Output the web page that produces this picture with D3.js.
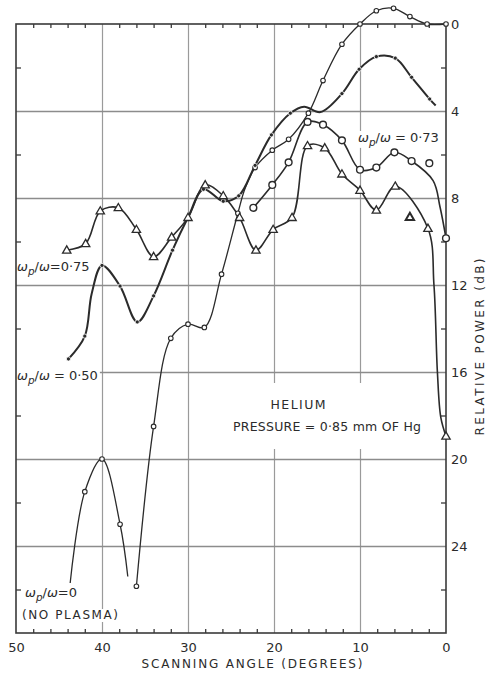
<!DOCTYPE html>
<html><head><meta charset="utf-8">
<script src="https://cdn.jsdelivr.net/npm/d3@7"></script>
<style>
html,body{margin:0;padding:0;background:#fff;}
svg{display:block;font-family:"DejaVu Sans",sans-serif;}
</style></head><body>
<svg id="chart" width="489" height="673"></svg>
<script>
// Relative received power (dB below peak) against scanning angle (degrees),
// helium plasma at 0.85 mm Hg, for several values of wp/w.

// wp/w = 0 (no plasma): side lobe and main lobe
const angleNoPlasmaSide = [43.7, 42.0, 40.0, 37.9, 37.0];
const dbNoPlasmaSide    = [25.7, 21.5, 20.0, 23.0, 25.4];
const plainNoPlasmaSide = [0, 4];

const angleNoPlasmaMain = [36.0, 34.0, 32.0, 30.0, 28.1, 26.1, 24.2, 23.4, 22.2, 20.2, 18.3, 16.0, 14.3, 12.1, 10.0, 8.1, 6.1, 4.2, 2.2, 0];
const dbNoPlasmaMain    = [25.85, 18.5, 14.45, 13.8, 13.95, 11.5, 8.7, 7.6, 6.6, 5.8, 5.3, 4.1, 2.6, 0.93, 0, -0.61, -0.72, -0.34, 0, 0];
const plainNoPlasmaMain = [7];

// wp/w = 0.50
const angle050 = [43.9, 42.0, 41.2, 40.0, 37.9, 35.9, 34.0, 31.8, 30.0, 28.2, 25.9, 24.1, 22.2, 20.3, 18.1, 16.5, 14.6, 12.1, 10.1, 8.1, 5.9, 4.0, 1.9, 1.2];
const db050    = [15.4, 14.35, 12.4, 11.1, 12.05, 13.7, 12.5, 10.4, 8.9, 7.6, 8.15, 7.9, 6.5, 5.1, 4.1, 3.8, 4.05, 3.2, 2.08, 1.5, 1.57, 2.45, 3.45, 3.75];
const plain050 = [2, 8, 15, 16, 23];

// wp/w = 0.73
const angle073 = [22.4, 20.2, 18.3, 16.1, 14.3, 12.1, 10.0, 8.1, 6.0, 4.0, 1.5, 0.7, 0];
const db073    = [8.45, 7.4, 6.36, 4.5, 4.63, 5.35, 6.7, 6.6, 5.9, 6.3, 7.2, 8.4, 9.85];
const plain073 = [10, 11];

// wp/w = 0.75
const angle075 = [44.1, 41.9, 40.2, 38.1, 36.0, 34.0, 31.9, 30.0, 28.0, 25.9, 24.0, 22.1, 20.1, 17.9, 16.1, 14.1, 12.1, 10.0, 8.1, 5.9, 2.1, 1.4, 1.0, 0.6, 0];
const db075    = [10.4, 10.1, 8.6, 8.45, 9.45, 10.7, 9.8, 8.9, 7.4, 7.9, 8.9, 10.4, 9.45, 8.9, 5.6, 5.7, 6.9, 7.65, 8.56, 7.46, 9.4, 12.0, 16.0, 18.1, 18.95];
const plain075 = [21, 22, 23];

// isolated readings
const looseCircle   = [1.94, 6.4];
const looseTriangle = [4.2, 8.9];

// axis ticks
const angleTicks = [50, 40, 30, 20, 10, 0];
const powerTicks = [0, 4, 8, 12, 16, 20, 24];
const angleGrid  = [40, 30, 20, 10];
const powerGrid  = [4, 8, 12, 16, 20, 24];
const angleMinor = d3.range(2, 50, 2).filter(v => v % 10 !== 0);
const powerMinor = [2, 6, 10, 14, 18, 22, 26];

const INK = "#2b2b2b";
const svg = d3.select("#chart");
const L = 16, R = 446, T = 24, B = 633;
const x = d3.scaleLinear().domain([50, 0]).range([L, R]);
const y = d3.scaleLinear().domain([0, 28]).range([T, B]);

const gGrid = svg.append("g");
const gBg = svg.append("g");
const gFrame = svg.append("g");
const gCurves = svg.append("g");
const gMarks = svg.append("g");
const gText = svg.append("g");

// grid
gGrid.append("g").attr("transform", `translate(0,${B})`)
  .call(d3.axisBottom(x).tickValues(angleGrid).tickSize(-(B - T)).tickFormat(""))
  .call(g => g.select(".domain").remove())
  .call(g => g.selectAll("line").attr("stroke", "#9a9a9a").attr("stroke-width", 1.2));
gGrid.append("g").attr("transform", `translate(${L},0)`)
  .call(d3.axisLeft(y).tickValues(powerGrid).tickSize(-(R - L)).tickFormat(""))
  .call(g => g.select(".domain").remove())
  .call(g => g.selectAll("line").attr("stroke", "#8c8c8c").attr("stroke-width", 1.3));

// frame
gFrame.append("rect").attr("x", L).attr("y", T).attr("width", R - L).attr("height", B - T)
  .attr("fill", "none").attr("stroke", "#3a3a3a").attr("stroke-width", 1.6);

function minor(axis, tr) {
  gFrame.append("g").attr("transform", tr).call(axis)
    .call(g => g.select(".domain").remove())
    .call(g => g.selectAll("text").remove())
    .call(g => g.selectAll("line").attr("stroke", "#3a3a3a").attr("stroke-width", 1.3));
}
minor(d3.axisTop(x).tickValues(angleMinor).tickSize(-4), `translate(0,${T})`);
minor(d3.axisBottom(x).tickValues(angleMinor).tickSize(-4), `translate(0,${B})`);
minor(d3.axisLeft(y).tickValues(powerMinor).tickSize(-5), `translate(${L},0)`);
minor(d3.axisRight(y).tickValues(powerMinor).tickSize(-5), `translate(${R},0)`);

// tick labels
gText.append("g").attr("transform", `translate(0,${B})`)
  .call(d3.axisBottom(x).tickValues(angleTicks).tickSize(0).tickPadding(10).tickFormat(d3.format("d")))
  .call(g => g.select(".domain").remove())
  .call(g => g.selectAll("text").attr("font-size", 13).attr("fill", INK).attr("font-family", "DejaVu Sans"));
gText.append("g").attr("transform", `translate(${R},0)`)
  .call(d3.axisRight(y).tickValues(powerTicks).tickSize(0).tickPadding(5).tickFormat(d3.format("d")))
  .call(g => g.select(".domain").remove())
  .call(g => g.selectAll("text").attr("font-size", 13).attr("fill", INK).attr("font-family", "DejaVu Sans"));

// axis titles
gText.append("text").attr("x", 252).attr("y", 668).attr("text-anchor", "middle")
  .attr("font-size", 12).attr("fill", INK).attr("textLength", 221).attr("lengthAdjust", "spacing")
  .text("SCANNING ANGLE (DEGREES)");
gText.append("text").attr("transform", "translate(484,347) rotate(-90)").attr("text-anchor", "middle")
  .attr("font-size", 12).attr("fill", INK).attr("textLength", 177).attr("lengthAdjust", "spacing")
  .text("RELATIVE POWER (dB)");

// curves
const line = d3.line().x(d => x(d[0])).y(d => y(d[1])).curve(d3.curveCatmullRom.alpha(0.5));
const zip = (a, b) => a.map((v, i) => [v, b[i]]);

const series = [
  {a: angleNoPlasmaSide, d: dbNoPlasmaSide, plain: plainNoPlasmaSide, w: 1.3, mark: "small"},
  {a: angleNoPlasmaMain, d: dbNoPlasmaMain, plain: plainNoPlasmaMain, w: 1.3, mark: "small"},
  {a: angle050, d: db050, plain: plain050, w: 2.0, mark: "dot"},
  {a: angle073, d: db073, plain: plain073, w: 1.6, mark: "circle"},
  {a: angle075, d: db075, plain: plain075, w: 1.6, mark: "tri"},
];

const tri = d3.symbol().type(d3.symbolTriangle).size(30);
function drawMark(sel, kind, p) {
  const cx = x(p[0]), cy = y(p[1]);
  if (kind === "tri") {
    sel.append("path").attr("d", tri).attr("transform", `translate(${cx},${cy + 0.5})`)
      .attr("fill", "#fff").attr("stroke", INK).attr("stroke-width", 1.3);
  } else if (kind === "triFilled") {
    sel.append("path").attr("d", tri).attr("transform", `translate(${cx},${cy})`)
      .attr("fill", "#fff").attr("stroke", INK).attr("stroke-width", 2);
  } else if (kind === "circle") {
    sel.append("circle").attr("cx", cx).attr("cy", cy).attr("r", 3.4)
      .attr("fill", "#fff").attr("stroke", INK).attr("stroke-width", 1.4);
  } else if (kind === "small") {
    sel.append("circle").attr("cx", cx).attr("cy", cy).attr("r", 2.3)
      .attr("fill", "#fff").attr("stroke", INK).attr("stroke-width", 1.1);
  } else {
    sel.append("circle").attr("cx", cx).attr("cy", cy).attr("r", 2.1)
      .attr("fill", INK).attr("stroke", "#fff").attr("stroke-width", 0.8);
  }
}

series.forEach(s => {
  const pts = zip(s.a, s.d);
  gCurves.append("path").attr("d", line(pts)).attr("fill", "none")
    .attr("stroke", INK).attr("stroke-width", s.w).attr("stroke-linejoin", "round");
  pts.forEach((p, i) => { if (!s.plain.includes(i)) drawMark(gMarks, s.mark, p); });
});
drawMark(gMarks, "circle", looseCircle);
drawMark(gMarks, "triFilled", looseTriangle);

// curve labels
function ratioLabel(px, py, value, size) {
  const t = gText.append("text").attr("x", px).attr("y", py).attr("font-size", size).attr("fill", INK);
  t.append("tspan").attr("font-style", "italic").text("ω");
  t.append("tspan").attr("font-style", "italic").attr("font-size", size * 0.8).attr("dy", size * 0.3).text("p");
  t.append("tspan").attr("dy", -size * 0.3).text("/");
  t.append("tspan").attr("font-style", "italic").text("ω");
  t.append("tspan").text(value);
  return t;
}
function backdrop(t, pad) {
  const b = t.node().getBBox();
  gBg.append("rect").attr("x", b.x - pad).attr("y", b.y + 1).attr("width", b.width + 2 * pad)
    .attr("height", b.height - 1).attr("fill", "#fff");
}
backdrop(ratioLabel(17, 271, "=0·75", 13), 1);
backdrop(ratioLabel(17, 380, " = 0·50", 13), 2);
backdrop(ratioLabel(358, 142, " = 0·73", 13), 2);
backdrop(ratioLabel(25, 597, "=0", 13), 1);
const np = gText.append("text").attr("x", 22).attr("y", 619).attr("font-size", 12).attr("fill", INK)
  .attr("textLength", 96).attr("lengthAdjust", "spacing").text("(NO PLASMA)");
backdrop(np, 1);

gBg.append("rect").attr("x", 228).attr("y", 383).attr("width", 200).attr("height", 66).attr("fill", "#fff");
gText.append("text").attr("x", 298).attr("y", 409).attr("text-anchor", "middle").attr("font-size", 12.5)
  .attr("fill", INK).attr("textLength", 55).attr("lengthAdjust", "spacing").text("HELIUM");
gText.append("text").attr("x", 233).attr("y", 431).attr("font-size", 12.5)
  .attr("fill", INK).attr("textLength", 188).attr("lengthAdjust", "spacing").text("PRESSURE = 0·85 mm OF Hg");
</script>
</body></html>
